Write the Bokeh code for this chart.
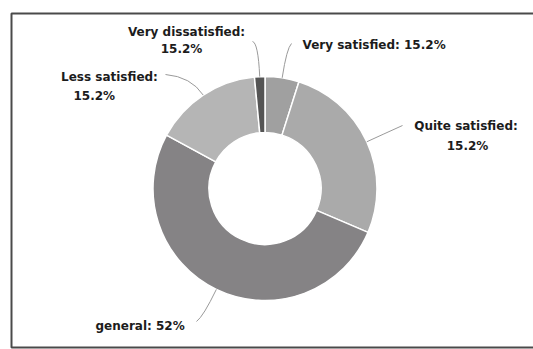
import numpy as np
from bokeh.plotting import figure
from bokeh.models import Range1d, ColumnDataSource
from bokeh.embed import file_html
from bokeh.resources import INLINE
from bokeh.core.properties import value

# ---- data ----
categories = ["Very satisfied", "Quite satisfied", "general", "Less satisfied", "Very dissatisfied"]
shares = [4.9, 26.5, 51.5, 15.6, 1.5]          # slice sizes (percent)
label_lines = [
    ["Very satisfied: 15.2%"],
    ["Quite satisfied:", "15.2%"],
    ["general: 52%"],
    ["Less satisfied:", "15.2%"],
    ["Very dissatisfied:", "15.2%"],
]
colors = ["#a0a0a0", "#aaaaaa", "#858385", "#b5b5b5", "#555555"]

# ---- layout (pixels, y downward) ----
W, H = 533, 349
CX, CY = 264.5, 188.0
R_OUT, R_IN = 112, 56
# per label: radial leader length, leader end point, line positions [(x, y, align)]
leader_len = [30, 18, 30, 22, 34]
leader_end = [(291, 43), (402, 125), (196, 321), (165, 74), (252, 41)]
text_pos = [
    [(302, 44, "left")],
    [(465.5, 125, "center"), (467, 145, "center")],
    [(95, 325, "left")],
    [(60.5, 76, "left"), (73, 95, "left")],
    [(186, 31, "center"), (181, 48.5, "center")],
]


def Y(py):
    return H - py


p = figure(width=W, height=H, x_range=Range1d(0, W), y_range=Range1d(0, H),
           output_backend="svg", toolbar_location=None, min_border=0,
           x_axis_location=None, y_axis_location=None)
p.grid.visible = False
p.outline_line_color = None
p.background_fill_color = "white"
p.border_fill_color = "white"

# frame border (left, top, bottom only; right edge is cut off in the reference)
p.line(x=[W + 5, 11, 11, W + 5], y=[Y(13), Y(13), Y(347), Y(347)],
       line_color="#4a4a4a", line_width=2)

# donut
frac = np.array(shares) / np.sum(shares)
cum = np.concatenate([[0], np.cumsum(frac)])
start = np.pi / 2 - cum[:-1] * 2 * np.pi
end = np.pi / 2 - cum[1:] * 2 * np.pi
src = ColumnDataSource(dict(cat=categories, start=start, end=end, color=colors))
p.annular_wedge(x=CX, y=Y(CY), inner_radius=R_IN, outer_radius=R_OUT,
                inner_radius_units="screen", outer_radius_units="screen",
                start_angle="start", end_angle="end", direction="clock",
                fill_color="color", line_color="white", line_width=1.5, source=src)

# leader lines
mid = (cum[:-1] + cum[1:]) / 2 * 2 * np.pi   # clockwise from top
x0, y0, cxs, cys, x1, y1 = [], [], [], [], [], []
for m, L, (ex, ey) in zip(mid, leader_len, leader_end):
    dx, dy = np.sin(m), -np.cos(m)
    x0.append(CX + R_OUT * dx); y0.append(Y(CY + R_OUT * dy))
    cxs.append(CX + (R_OUT + L) * dx); cys.append(Y(CY + (R_OUT + L) * dy))
    x1.append(ex); y1.append(Y(ey))
p.quadratic(x0=x0, y0=y0, x1=x1, y1=y1, cx=cxs, cy=cys, line_color="#9a9a9a", line_width=1)

# labels
for lines, poss in zip(label_lines, text_pos):
    for t, (tx, ty, al) in zip(lines, poss):
        p.text(x=[tx], y=[Y(ty)], text=[t], text_align=al, text_baseline="middle",
               text_font=value("DejaVu Sans"), text_font_style="bold",
               text_font_size="12px", text_color="#1c1c1c")

open("out.html", "w").write(file_html(p, INLINE))
